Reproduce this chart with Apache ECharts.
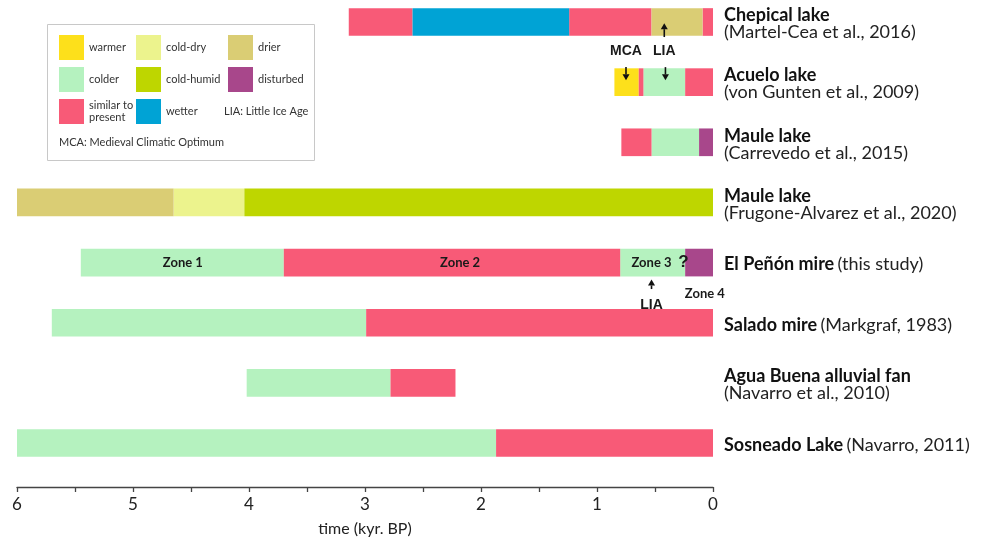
<!DOCTYPE html>
<html>
<head>
<meta charset="utf-8">
<script src="https://cdn.jsdelivr.net/npm/echarts@6/dist/echarts.min.js"></script>
<style>
  html, body { margin: 0; padding: 0; background: #fff; }
  #chart { width: 988px; height: 542px; }
</style>
</head>
<body>
<div id="chart"></div>
<script>
// Record names (bold) and their references
const recordNames = ['Chepical lake', 'Acuelo lake', 'Maule lake', 'Maule lake', 'El Peñón mire',
  'Salado mire', 'Agua Buena alluvial fan', 'Sosneado Lake'];
const recordRefs = ['(Martel-Cea et al., 2016)', '(von Gunten et al., 2009)', '(Carrevedo et al., 2015)',
  '(Frugone-Alvarez et al., 2020)', '(this study)', '(Markgraf, 1983)', '(Navarro et al., 2010)',
  '(Navarro, 2011)'];
// records whose reference sits on the same line as the name
const oneLineRecords = [4, 5, 7];

// Climate interpretation classes (legend order, column by column)
const classNames = ['warmer', 'colder', 'similar to present', 'cold-dry', 'cold-humid', 'wetter', 'drier', 'disturbed'];

// Segments per record: [from kyr BP, to kyr BP, class]
const chepical = [[3.14, 2.59, 'similar to present'], [2.59, 1.24, 'wetter'], [1.24, 0.53, 'similar to present'],
  [0.53, 0.09, 'drier'], [0.09, 0, 'similar to present']];
const acuelo = [[0.85, 0.64, 'warmer'], [0.64, 0.60, 'similar to present'], [0.60, 0.24, 'colder'],
  [0.24, 0, 'similar to present']];
const mauleCarrevedo = [[0.79, 0.53, 'similar to present'], [0.53, 0.12, 'colder'], [0.12, 0, 'disturbed']];
const mauleFrugone = [[6, 4.65, 'drier'], [4.65, 4.04, 'cold-dry'], [4.04, 0, 'cold-humid']];
const elPenon = [[5.45, 3.70, 'colder'], [3.70, 0.80, 'similar to present'], [0.80, 0.24, 'colder'],
  [0.24, 0, 'disturbed']];
const salado = [[5.70, 2.99, 'colder'], [2.99, 0, 'similar to present']];
const aguaBuena = [[4.02, 2.78, 'colder'], [2.78, 2.22, 'similar to present']];
const sosneado = [[6, 1.87, 'colder'], [1.87, 0, 'similar to present']];
const records = [chepical, acuelo, mauleCarrevedo, mauleFrugone, elPenon, salado, aguaBuena, sosneado];

// Text notes: [kyr BP, row position, text, kind]
const notes = [
  [0.75, 0.49, 'MCA', 'event'], [0.42, 0.49, 'LIA', 'event'],
  [4.57, 4, 'Zone 1', 'zone'], [2.18, 4, 'Zone 2', 'zone'], [0.53, 4, 'Zone 3', 'zone'],
  [0.255, 4, '?', 'mark'], [0.07, 4.52, 'Zone 4', 'zone'], [0.53, 4.70, 'LIA', 'event']
];
// Arrows: [kyr BP, row position of tail, row position of head]
const arrows = [[0.42, 0.25, 0.02], [0.75, 0.75, 0.97], [0.41, 0.75, 0.97], [0.53, 4.44, 4.28]];

// Time axis tick labels
const timeTicks = [0, 1, 2, 3, 4, 5, 6];

const classColors = {
  'warmer': '#fde01b', 'colder': '#b5f2bf', 'similar to present': '#f85a77',
  'cold-dry': '#ecf38d', 'cold-humid': '#bed600', 'wetter': '#00a3d5',
  'drier': '#dacd74', 'disturbed': '#a8478b'
};

const chart = echarts.init(document.getElementById('chart'));

function segmentRender(params, api) {
  const a = api.coord([api.value(0), api.value(2)]);
  const b = api.coord([api.value(1), api.value(2)]);
  const h = api.size([0, 1])[1] * 0.46;
  return {
    type: 'rect',
    shape: { x: Math.min(a[0], b[0]), y: a[1] - h / 2, width: Math.abs(b[0] - a[0]), height: h },
    style: { fill: api.visual('color') }
  };
}

const segmentSeries = classNames.map(name => {
  const data = [];
  records.forEach((segs, row) => segs.forEach(s => { if (s[2] === name) data.push([s[0], s[1], row]); }));
  return {
    type: 'custom', name: name, renderItem: segmentRender, data: data,
    itemStyle: { color: classColors[name] },
    encode: { x: [0, 1], y: 2 }, clip: false, silent: true
  };
});

const noteSeries = {
  type: 'custom', name: 'notes', silent: true, clip: false, z: 5,
  data: notes,
  encode: { x: 0, y: 1 },
  renderItem(params, api) {
    const p = api.coord([api.value(0), api.value(1)]);
    const d = notes[params.dataIndex];
    const kind = d[3];
    const font = kind === 'event' ? 'bold 14px "Liberation Sans", Arial, sans-serif'
      : kind === 'mark' ? 'bold 17px "Liberation Sans", Arial, sans-serif'
      : 'bold 13px Lato, sans-serif';
    return {
      type: 'text', x: p[0], y: p[1],
      style: { text: d[2], font: font, fill: '#1a1a1a', align: 'center', verticalAlign: 'middle' }
    };
  }
};

const arrowSeries = {
  type: 'custom', name: 'arrows', silent: true, clip: false, z: 5,
  data: arrows,
  encode: { x: 0, y: [1, 2] },
  renderItem(params, api) {
    const t = api.coord([api.value(0), api.value(1)]);
    const h = api.coord([api.value(0), api.value(2)]);
    const dir = h[1] < t[1] ? -1 : 1;
    const headLen = 6, headHalf = 3.5;
    return {
      type: 'group',
      children: [
        { type: 'line', shape: { x1: t[0], y1: t[1], x2: h[0], y2: h[1] - dir * headLen },
          style: { stroke: '#111', lineWidth: 1.6 } },
        { type: 'polygon', shape: { points: [[h[0], h[1]], [h[0] - headHalf, h[1] - dir * headLen],
          [h[0] + headHalf, h[1] - dir * headLen]] }, style: { fill: '#111' } }
      ]
    };
  }
};

const legendBase = {
  orient: 'vertical', top: 35, padding: 0, itemWidth: 25, itemHeight: 25, itemGap: 7,
  icon: 'rect', selectedMode: false,
  textStyle: { fontFamily: 'Lato, sans-serif', fontSize: 11, color: '#333', lineHeight: 12, padding: [0, 0, 0, 0] },
  formatter: n => n === 'similar to present' ? 'similar to\npresent' : n
};

chart.setOption({
  animation: false,
  grid: { left: 17, right: 275, top: 22, bottom: 93 },
  xAxis: {
    type: 'value', min: 0, max: 6, interval: 0.5, inverse: true, offset: 44,
    name: 'time (kyr. BP)', nameLocation: 'middle', nameGap: 34,
    nameTextStyle: { fontFamily: 'Lato, sans-serif', fontSize: 16, color: '#222' },
    axisLine: { onZero: false, lineStyle: { color: '#444', width: 1.3 } },
    axisTick: { length: 5, lineStyle: { color: '#444', width: 1.3 } },
    splitLine: { show: false },
    axisLabel: {
      margin: 9, fontFamily: 'Lato, sans-serif', fontSize: 17, color: '#222',
      formatter: v => timeTicks.indexOf(v) >= 0 ? String(v) : ''
    }
  },
  yAxis: {
    type: 'value', min: 0, max: 7, interval: 1, inverse: true, position: 'right',
    axisLine: { show: false }, axisTick: { show: false }, splitLine: { show: false },
    axisLabel: {
      margin: 11, align: 'left', padding: [4, 0, 0, 0],
      formatter: v => {
        const sep = oneLineRecords.indexOf(v) >= 0 ? ' ' : '\n';
        return '{b|' + recordNames[v] + '}' + sep + '{n|' + recordRefs[v] + '}';
      },
      rich: {
        b: { fontFamily: 'Lato, sans-serif', fontWeight: 'bold', fontSize: 18, color: '#111', lineHeight: 17 },
        n: { fontFamily: 'Lato, sans-serif', fontSize: 18, color: '#222', lineHeight: 17 }
      }
    }
  },
  legend: [
    Object.assign({}, legendBase, { left: 59, data: ['warmer', 'colder', 'similar to present'] }),
    Object.assign({}, legendBase, { left: 136, data: ['cold-dry', 'cold-humid', 'wetter'] }),
    Object.assign({}, legendBase, { left: 228, data: ['drier', 'disturbed'] })
  ],
  graphic: [
    { type: 'rect', left: 47, top: 24, z: -1, shape: { width: 267, height: 136 },
      style: { fill: '#fff', stroke: '#c8c8c8', lineWidth: 1 } },
    { type: 'text', left: 224, top: 106, style: { text: 'LIA: Little Ice Age',
      font: '11px Lato, sans-serif', fill: '#333' } },
    { type: 'text', left: 59, top: 137, style: { text: 'MCA: Medieval Climatic Optimum',
      font: '11px Lato, sans-serif', fill: '#333' } }
  ],
  series: segmentSeries.concat([noteSeries, arrowSeries])
});
</script>
</body>
</html>
